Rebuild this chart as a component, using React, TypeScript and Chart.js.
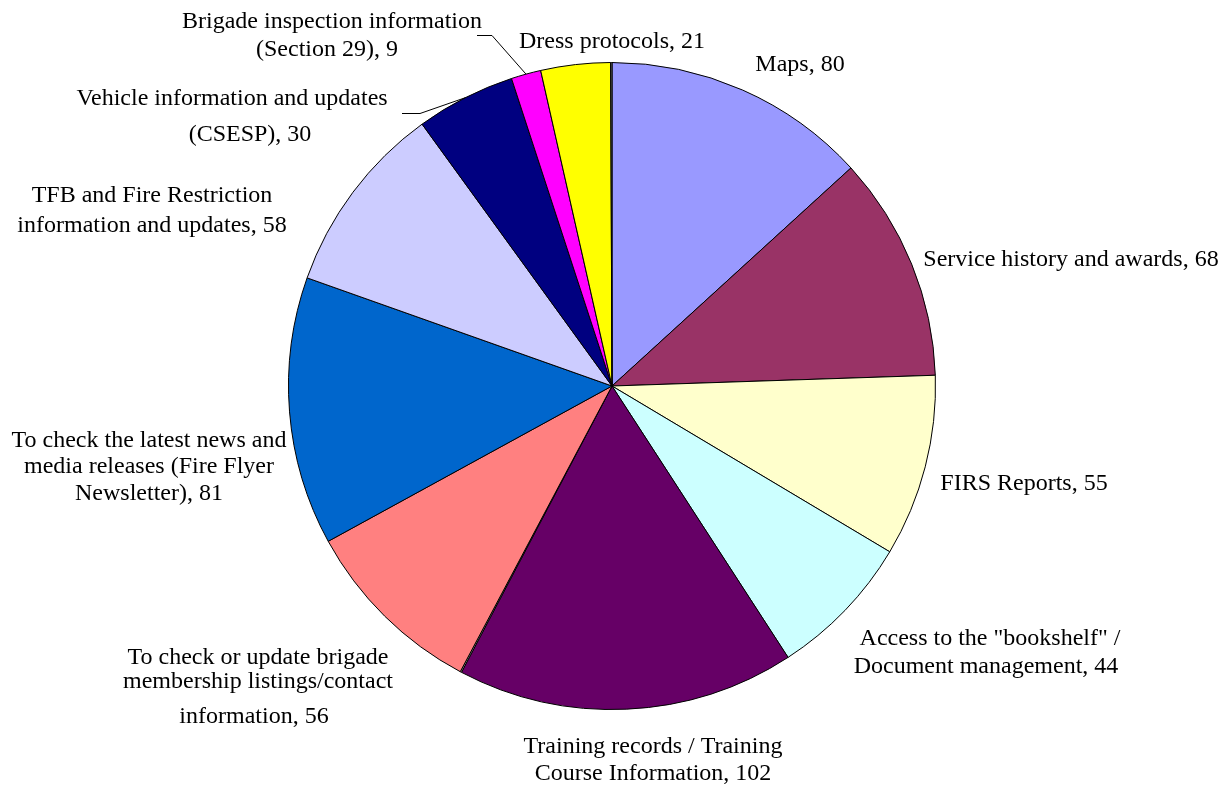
import React, { useEffect, useRef } from "react";
import { Chart, registerables } from "chart.js";

Chart.register(...registerables);

// ---- Data ----
const categories: string[] = [
  "Maps",
  "Service history and awards",
  "FIRS Reports",
  'Access to the "bookshelf" / Document management',
  "Training records / Training Course Information",
  "(unlabelled)",
  "To check or update brigade membership listings/contact information",
  "To check the latest news and media releases (Fire Flyer Newsletter)",
  "TFB and Fire Restriction information and updates",
  "Vehicle information and updates (CSESP)",
  "Brigade inspection information (Section 29)",
  "Dress protocols",
  "(unlabelled)",
];
const values: number[] = [80, 68, 55, 44, 102, 0.4, 56, 81, 58, 30, 9, 21, 0.4];

// label text split into lines (empty = no label)
const labelLines: string[][] = [
  ["Maps, 80"],
  ["Service history and awards, 68"],
  ["FIRS Reports, 55"],
  ['Access to the "bookshelf" /', "Document management, 44"],
  ["Training records / Training", "Course Information, 102"],
  [],
  ["To check or update brigade", "membership listings/contact", "information, 56"],
  ["To check the latest news and", "media releases (Fire Flyer", "Newsletter), 81"],
  ["TFB and Fire Restriction", "information and updates, 58"],
  ["Vehicle information and updates", "(CSESP), 30"],
  ["Brigade inspection information", "(Section 29), 9"],
  ["Dress protocols, 21"],
  [],
];

// ---- Styles / layout ----
const colors: string[] = [
  "#9999FF",
  "#993366",
  "#FFFFCC",
  "#CCFFFF",
  "#660066",
  "#C0C0C0",
  "#FF8080",
  "#0066CC",
  "#CCCCFF",
  "#000080",
  "#FF00FF",
  "#FFFF00",
  "#808080",
];

// per-line offsets (dx, dy) of each text line centre relative to the pie centre
const labelPos: [number, number][][] = [
  [[188, -321]],
  [[459, -126]],
  [[412, 98]],
  [[378, 253], [374, 281]],
  [[41, 361], [41, 388]],
  [],
  [[-354, 272], [-354, 296], [-358, 331]],
  [[-463, 55], [-463, 81], [-463, 108]],
  [[-460, -190], [-460, -160]],
  [[-380, -287], [-362, -251]],
  [[-280, -364], [-285, -336]],
  [[0, -344]],
  [],
];

// leader line start / elbow points (relative to pie centre); end is the slice's outer mid-point
const leaders: ([number, number][] | null)[] = [
  null, null, null, null, null, null, null, null, null,
  [[-210, -273], [-192, -273]],
  [[-135, -351], [-120, -351]],
  null, null,
];

const FONT = '24px "Liberation Serif", "Times New Roman", serif';

const labelPlugin = {
  id: "sliceLabels",
  afterDatasetsDraw(chart: any) {
    const ctx: CanvasRenderingContext2D = chart.ctx;
    const meta = chart.getDatasetMeta(0);
    ctx.save();
    ctx.font = FONT;
    ctx.fillStyle = "#000";
    ctx.textAlign = "center";
    ctx.textBaseline = "middle";
    meta.data.forEach((arc: any, i: number) => {
      const { x, y, outerRadius, startAngle, endAngle } = arc.getProps(
        ["x", "y", "outerRadius", "startAngle", "endAngle"],
        true
      );
      const lines = labelLines[i];
      const pos = labelPos[i];
      lines.forEach((t, j) => {
        ctx.fillText(t, x + pos[j][0], y + pos[j][1]);
      });
      const ld = leaders[i];
      if (ld) {
        const mid = (startAngle + endAngle) / 2;
        const ex = x + Math.cos(mid) * outerRadius;
        const ey = y + Math.sin(mid) * outerRadius;
        ctx.beginPath();
        ctx.strokeStyle = "#000";
        ctx.lineWidth = 1;
        ctx.moveTo(x + ld[0][0], y + ld[0][1] + 0.5);
        ctx.lineTo(x + ld[1][0], y + ld[1][1] + 0.5);
        ctx.lineTo(ex, ey);
        ctx.stroke();
      }
    });
    ctx.restore();
  },
};

export default function App() {
  const ref = useRef<HTMLCanvasElement | null>(null);
  useEffect(() => {
    if (!ref.current) return;
    const chart = new Chart(ref.current, {
      type: "pie",
      data: {
        labels: categories,
        datasets: [
          {
            data: values,
            backgroundColor: colors,
            borderColor: "#000000",
            borderWidth: 1,
          },
        ],
      },
      options: {
        responsive: false,
        animation: false,
        devicePixelRatio: 1,
        layout: { padding: { left: 288, right: 296, top: 62, bottom: 83 } },
        plugins: {
          legend: { display: false },
          tooltip: { enabled: false },
        },
      },
      plugins: [labelPlugin],
    });
    return () => chart.destroy();
  }, []);
  return (
    <div style={{ position: "absolute", left: 0, top: 0, width: 1232, height: 793, background: "#fff" }}>
      <canvas ref={ref} width={1232} height={793} />
    </div>
  );
}
